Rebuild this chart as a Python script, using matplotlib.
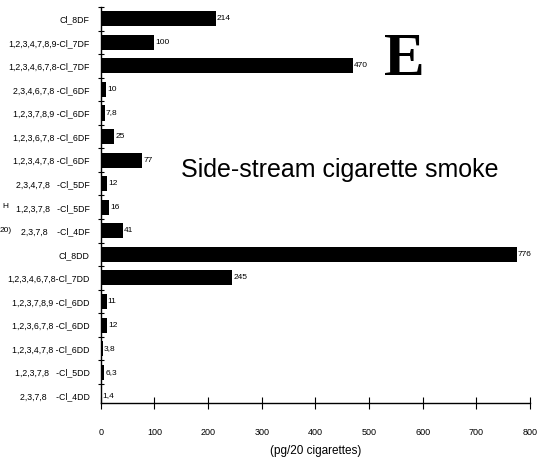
import matplotlib.pyplot as plt
import numpy as np

# congeners, top to bottom
congeners = ['Cl_8DF', '1,2,3,4,7,8,9-Cl_7DF', '1,2,3,4,6,7,8-Cl_7DF',
             '2,3,4,6,7,8 -Cl_6DF', '1,2,3,7,8,9 -Cl_6DF', '1,2,3,6,7,8 -Cl_6DF',
             '1,2,3,4,7,8 -Cl_6DF', '2,3,4,7,8   -Cl_5DF', '1,2,3,7,8   -Cl_5DF',
             '2,3,7,8    -Cl_4DF', 'Cl_8DD', '1,2,3,4,6,7,8-Cl_7DD',
             '1,2,3,7,8,9 -Cl_6DD', '1,2,3,6,7,8 -Cl_6DD', '1,2,3,4,7,8 -Cl_6DD',
             '1,2,3,7,8   -Cl_5DD', '2,3,7,8    -Cl_4DD']
values = [214, 100, 470, 10, 7.8, 25, 77, 12, 16, 41,
          776, 245, 11, 12, 3.8, 6.3, 1.4]
xticks = [0, 100, 200, 300, 400, 500, 600, 700, 800]

plt.rcParams['font.family'] = ['Liberation Sans', 'DejaVu Sans']

fig = plt.figure(figsize=(5.39, 4.63), dpi=100)
ax = fig.add_axes([0.187, 0.13, 0.796, 0.855])

n = len(values)
ypos = np.arange(n)[::-1]
ax.barh(ypos, values, height=0.64, color='black')

for y, v in zip(ypos, values):
    txt = ('%g' % v).replace('.', ',')
    ax.text(v + 2, y, txt, fontsize=6, va='center', ha='left')

ax.set_xlim(0, 800)
ax.set_ylim(-0.3, n - 0.5)
ax.set_xticks(xticks)
ax.set_xticklabels([str(t) for t in xticks], fontsize=6.5)
ax.tick_params(axis='x', direction='inout', length=8, width=0.8, pad=14)
ax.set_yticks(ypos)
ax.set_yticklabels(congeners, fontsize=6.3)
ax.tick_params(axis='y', length=0, pad=8)
ax.set_yticks(np.arange(n) + 0.5, minor=True)
ax.tick_params(axis='y', which='minor', direction='inout', length=4, width=0.8)
ax.set_xlabel('(pg/20 cigarettes)', fontsize=8.5, labelpad=6)

for s in ['top', 'right']:
    ax.spines[s].set_visible(False)
for s in ['left', 'bottom']:
    ax.spines[s].set_linewidth(1.0)

fig.text(0.75, 0.838, 'E', fontsize=44, fontweight='bold',
         family='Liberation Serif', va='baseline', ha='center')
fig.text(0.631, 0.618, 'Side-stream cigarette smoke', fontsize=18,
         va='baseline', ha='center')

# fragments of the neighbouring panel at the left edge
fig.text(0.004, 0.555, 'H', fontsize=6, va='center')
fig.text(0.0, 0.502, '20)', fontsize=6, va='center')

fig.savefig('out.png', dpi=100)
